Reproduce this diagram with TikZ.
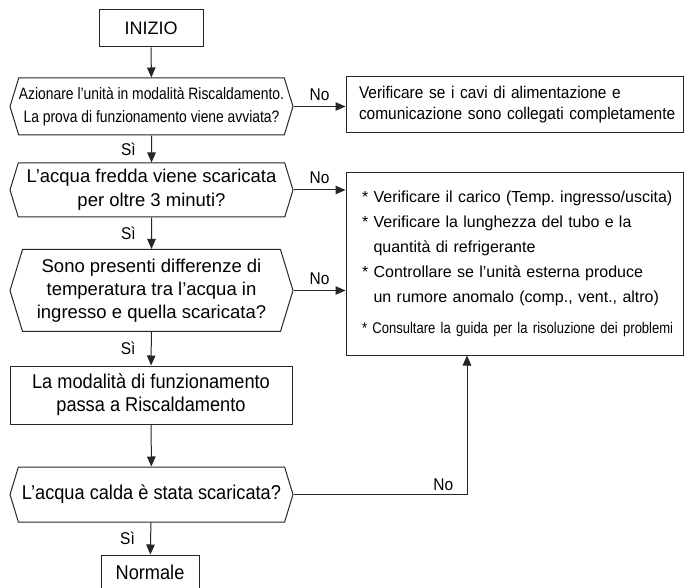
\documentclass[tikz,border=0pt]{standalone}
\usepackage{fontspec}
\setmainfont{Liberation Sans}
\newfontfamily\narrowfont[FakeStretch=0.84]{Liberation Sans}
\newfontfamily\semifont[FakeStretch=0.91]{Liberation Sans}
\usetikzlibrary{arrows.meta,shapes.symbols}
\frenchspacing

\begin{document}
\begin{tikzpicture}[x=1pt, y=-1pt, line width=1pt, draw=black!85,
                    >={Triangle[length=10pt, width=8.5pt]},
                    box/.style={draw, rectangle, inner sep=0pt, fill=white},
                    hexa/.style={draw, signal, signal to=west and east,
                                 signal pointer angle=146, inner sep=0pt,
                                 minimum width=283pt, align=center},
                    lbl/.style={font=\semifont\fontsize{17}{20}\selectfont}]
    \useasboundingbox (0,0) rectangle (686,588);

    \node[box, minimum width=104pt, minimum height=37pt,
          font=\fontsize{18}{22}\selectfont] (start) at (151,28.5) {INIZIO};
    \node[hexa, minimum height=57pt,
          font=\narrowfont\fontsize{16.5}{23}\selectfont] (q1) at (151.5,106.5)
        {Azionare l’unità in modalità Riscaldamento.\\La prova di funzionamento viene avviata?};
    \node[hexa, minimum height=54pt,
          font=\fontsize{18.5}{24}\selectfont] (q2) at (151.5,190)
        {L’acqua fredda viene scaricata\\per oltre 3 minuti?};
    \node[hexa, minimum height=82pt,
          font=\fontsize{18.5}{23}\selectfont] (q3) at (151.5,290.5)
        {Sono presenti differenze di\\temperatura tra l’acqua in\\ingresso e quella scaricata?};
    \node[box, minimum width=282pt, minimum height=58pt, align=center,
          font=\semifont\fontsize{20}{23}\selectfont] (mode) at (151,395)
        {La modalità di funzionamento\\passa a Riscaldamento};
    \node[hexa, minimum height=55pt,
          font=\semifont\fontsize{20}{23}\selectfont] (q4) at (151.5,494.5)
        {L’acqua calda è stata scaricata?};
    \node[box, minimum width=98pt, minimum height=34pt,
          font=\semifont\fontsize{20}{23}\selectfont] (stop) at (150,572) {Normale};

    % boxes on the right: lines kept unbroken
    \node[box, minimum width=337pt, minimum height=56pt, inner xsep=13pt,
          text width=311pt, align=left,
          font=\semifont\fontsize{17}{21}\selectfont] (chk1) at (514.5,105)
        {\mbox{Verificare se i cavi di alimentazione e}\\
         \mbox{comunicazione sono collegati completamente}};
    \node[box, minimum width=337pt, minimum height=182pt, inner xsep=16pt,
          text width=305pt, align=left,
          font=\fontsize{16}{25}\selectfont] (chk2) at (514.5,264)
        {\mbox{* Verificare il carico (Temp. ingresso/uscita)}\\
         \mbox{* Verificare la lunghezza del tubo e la}\\
         \mbox{\phantom{* }quantità di refrigerante}\\
         \mbox{* Controllare se l’unità esterna produce}\\
         \mbox{\phantom{* }un rumore anomalo (comp., vent., altro)}\\[6pt]
         \mbox{\narrowfont\fontsize{15.5}{20}\selectfont * Consultare la guida per la risoluzione dei problemi}};

    \draw[->] (start) -- (q1);
    \draw[->] (q1) -- node[lbl, left=12pt] {Sì} (q2);
    \draw[->] (q2) -- node[lbl, left=12pt] {Sì} (q3);
    \draw[->] (q3) -- node[lbl, left=12pt] {Sì} (mode);
    \draw[->] (mode) -- (q4);
    \draw[->] (q4) -- node[lbl, left=12pt] {Sì} (stop);

    \draw[->] (q1.east) -- node[lbl, above=2pt] {No} (q1.east -| chk1.west);
    \draw[->] (q2.east) -- node[lbl, above=2pt] {No} (q2.east -| chk2.west);
    \draw[->] (q3.east) -- node[lbl, above=2pt] {No} (q3.east -| chk2.west);
    \draw[->] (q4.east) -| node[lbl, pos=0.5, anchor=south east, xshift=-10pt] {No}
        ([xshift=-47.5pt]chk2.south);
\end{tikzpicture}
\end{document}
